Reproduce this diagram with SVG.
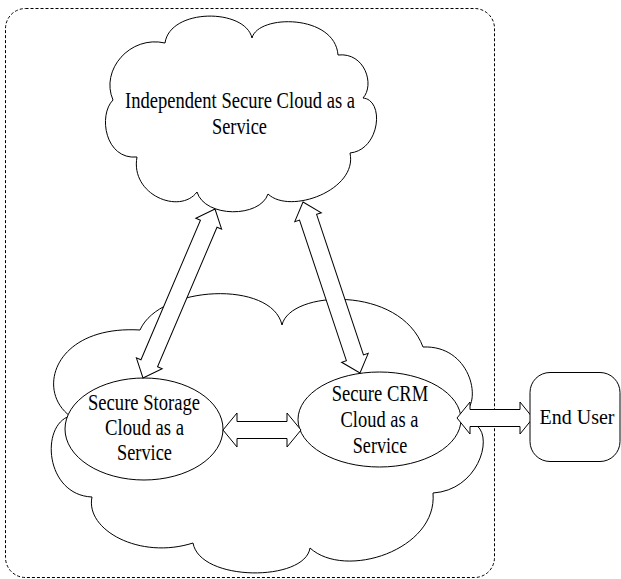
<svg xmlns="http://www.w3.org/2000/svg" width="621" height="579" viewBox="0 0 621 579">
<style>
.shape{fill:#fff;stroke:#000;stroke-width:1}
.frame{fill:none;stroke:#000;stroke-width:1;stroke-dasharray:3,2}
.arrow{fill:#fff;stroke:#000;stroke-width:1;stroke-linejoin:miter}
.t{font-family:'Liberation Serif','Times New Roman',serif;font-size:23px;fill:#000;text-anchor:middle}
.u{font-size:20px}
</style>
<g id="boundary">
<rect class="frame" x="5.5" y="8.5" width="489" height="569" rx="20" ry="20"/>
</g>
<g id="enterprise-cloud">
<path class="shape" d="M140,330 C160,285 272,280 282,325 C290,290 400,285 423,347 C470,345 482,400 465,412 L474,424 C495,433 480,490 433,493 C438,550 345,580 310,548 C305,582 200,582 193,543 C140,560 85,530 92,497 C45,495 40,425 70,416 C35,390 55,325 140,330 Z"/>
</g>
<g id="independent-cloud">
<path class="shape" d="M165,43 C170,8 245,8 252,38 C258,14 335,14 338,55 C365,52 375,85 363,98 C385,100 380,150 350,153 C358,190 290,215 268,194 C260,218 205,218 197,192 C180,215 130,195 137,157 C105,160 98,115 113,100 C100,70 130,35 165,43 Z"/>
<text class="t" x="240" y="108" textLength="230" lengthAdjust="spacingAndGlyphs">Independent Secure Cloud as a</text>
<text class="t" x="239.5" y="134" textLength="55" lengthAdjust="spacingAndGlyphs">Service</text>
</g>
<g id="storage">
<ellipse class="shape" cx="144" cy="429" rx="79" ry="51"/>
<text class="t" x="144" y="410" textLength="112" lengthAdjust="spacingAndGlyphs">Secure Storage</text>
<text class="t" x="144.5" y="435" textLength="79" lengthAdjust="spacingAndGlyphs">Cloud as a</text>
<text class="t" x="144.5" y="460" textLength="55" lengthAdjust="spacingAndGlyphs">Service</text>
</g>
<g id="crm">
<ellipse class="shape" cx="379.5" cy="419.5" rx="81.5" ry="47.5"/>
<text class="t" x="380" y="401" textLength="96.5" lengthAdjust="spacingAndGlyphs">Secure CRM</text>
<text class="t" x="379.5" y="427" textLength="78" lengthAdjust="spacingAndGlyphs">Cloud as a</text>
<text class="t" x="380" y="452.5" textLength="54.5" lengthAdjust="spacingAndGlyphs">Service</text>
</g>
<g id="connectors">
<polygon class="arrow" transform="translate(215,209) rotate(113.08)" points="0,0 16,-14 16,-9 167.7,-9 167.7,-14 183.7,0 167.7,14 167.7,9 16,9 16,14"/>
<polygon class="arrow" transform="translate(303,202) rotate(71.57)" points="0,0 16,-14 16,-9 164.25,-9 164.25,-14 180.25,0 164.25,14 164.25,9 16,9 16,14"/>
<polygon class="arrow" points="223,430 237,413 237,421.5 287,421.5 287,413 301,430 287,447 287,438.5 237,438.5 237,447"/>
<polygon class="arrow" points="457,418 470,402 470,409.5 520,409.5 520,402 533,418 520,434 520,426.5 470,426.5 470,434"/>
</g>
<g id="end-user">
<rect class="shape" x="530" y="372.5" width="90" height="89" rx="20" ry="20"/>
<text class="t u" x="577" y="424">End User</text>
</g>
</svg>
